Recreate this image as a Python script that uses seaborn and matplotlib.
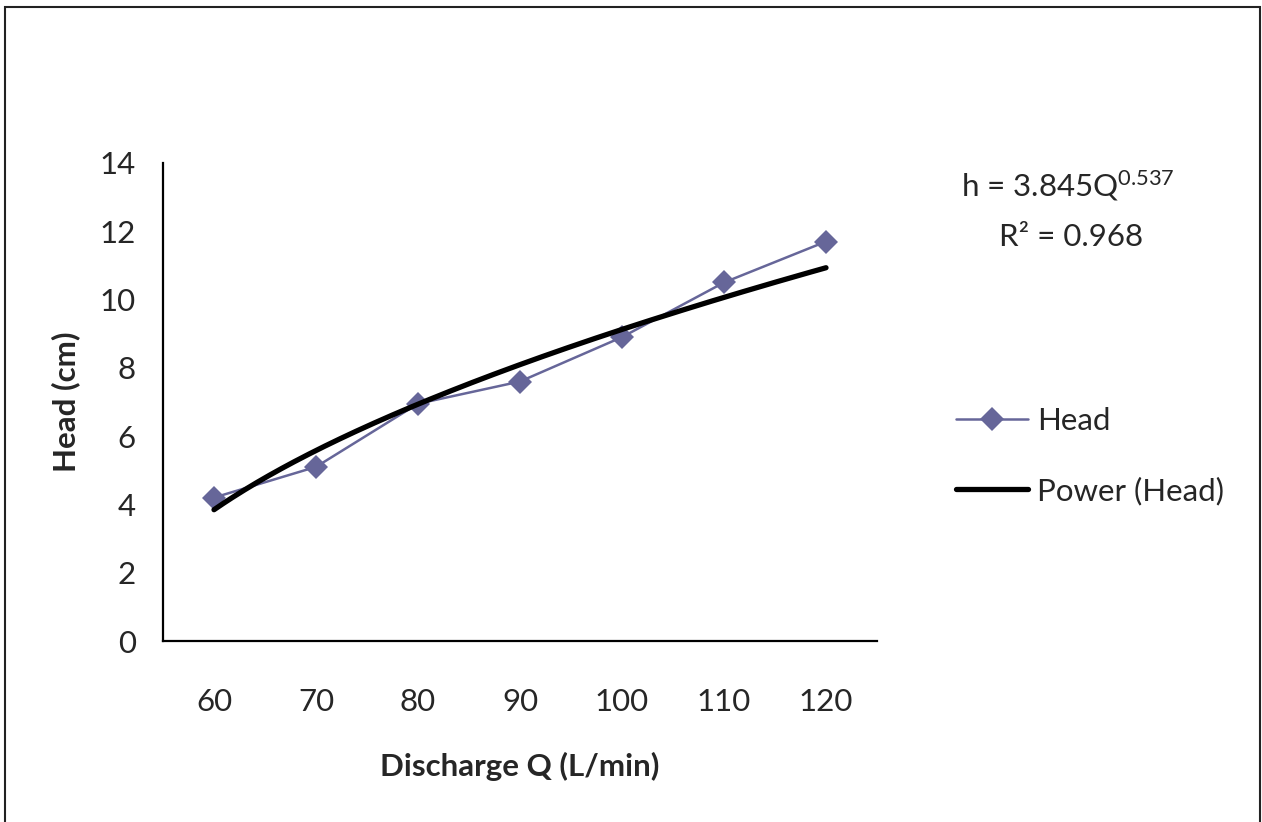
import numpy as np
import pandas as pd
import matplotlib
matplotlib.use("Agg")
import matplotlib.pyplot as plt
import seaborn as sns
from matplotlib.patches import Rectangle

# data
discharge = [60, 70, 80, 90, 100, 110, 120]
head = [4.2, 5.1, 6.95, 7.6, 8.9, 10.5, 11.7]
# power trendline shown on the chart: h = a * Q^b (Q = category index)
trend_a = 3.845
trend_b = 0.537
r_squared = 0.968

sns.set_style("white")
plt.rcParams["font.family"] = ["Lato", "DejaVu Sans"]
plt.rcParams["mathtext.fontset"] = "custom"
plt.rcParams["mathtext.rm"] = "Lato"
plt.rcParams["mathtext.it"] = "Lato"

idx = np.arange(1, len(discharge) + 1)
df = pd.DataFrame({"idx": idx, "Head": head})
xs = np.linspace(1, len(discharge), 200)
trend = pd.DataFrame({"idx": xs, "fit": trend_a * xs ** trend_b})

fs = 22.5
fig = plt.figure(figsize=(12.62, 8.22), dpi=100)
ax = fig.add_axes([163 / 1262, 1 - 641 / 822, (877 - 163) / 1262, (641 - 163) / 822])

sns.lineplot(data=df, x="idx", y="Head", ax=ax, color="#666699", lw=1.8,
             marker="D", markersize=12.5, markeredgewidth=0, label="Head")
sns.lineplot(data=trend, x="idx", y="fit", ax=ax, color="black", lw=3.8,
             label="Power (Head)")

ax.set_xlim(0.5, len(discharge) + 0.5)
ax.set_ylim(0, 14)
ax.set_yticks(range(0, 15, 2))
ax.set_xticks(np.arange(0.5, len(discharge) + 1, 1))
ax.set_xticklabels([])
ax.set_xticks(idx, minor=True)
ax.set_xticklabels([str(d) for d in discharge], minor=True)
ax.tick_params(axis="x", which="major", direction="out", length=10.5, width=1.6, color="black")
ax.tick_params(axis="x", which="minor", length=0, pad=34, labelsize=fs)
ax.tick_params(axis="y", direction="out", length=10.5, width=1.6, color="black",
               pad=9, labelsize=fs)

for s in ["top", "right"]:
    ax.spines[s].set_visible(False)
for s in ["left", "bottom"]:
    ax.spines[s].set_linewidth(1.6)
    ax.spines[s].set_color("black")

ax.set_xlabel("Discharge Q (L/min)", fontsize=fs, fontweight="bold", labelpad=26)
ax.set_ylabel("Head (cm)", fontsize=fs, fontweight="bold", labelpad=14)

ax.legend(loc="center left", bbox_to_anchor=(928 / 1262, 1 - 456 / 822),
          bbox_transform=fig.transFigure, frameon=False, fontsize=fs,
          handlelength=2.3, handletextpad=0.3, labelspacing=1.35)

fig.text(1068 / 1262, 1 - 186 / 822, "h = 3.845Q$^{0.537}$", fontsize=fs,
         ha="center", va="center")
fig.text(1071 / 1262, 1 - 237 / 822, f"R² = {r_squared}", fontsize=fs,
         ha="center", va="center")

fig.patches.append(Rectangle((5 / 1262, -0.02), 1255 / 1262, 1.02 - 7 / 822,
                             transform=fig.transFigure, fill=False,
                             edgecolor="#222222", lw=1.5))

fig.savefig("out.png", dpi=100)
